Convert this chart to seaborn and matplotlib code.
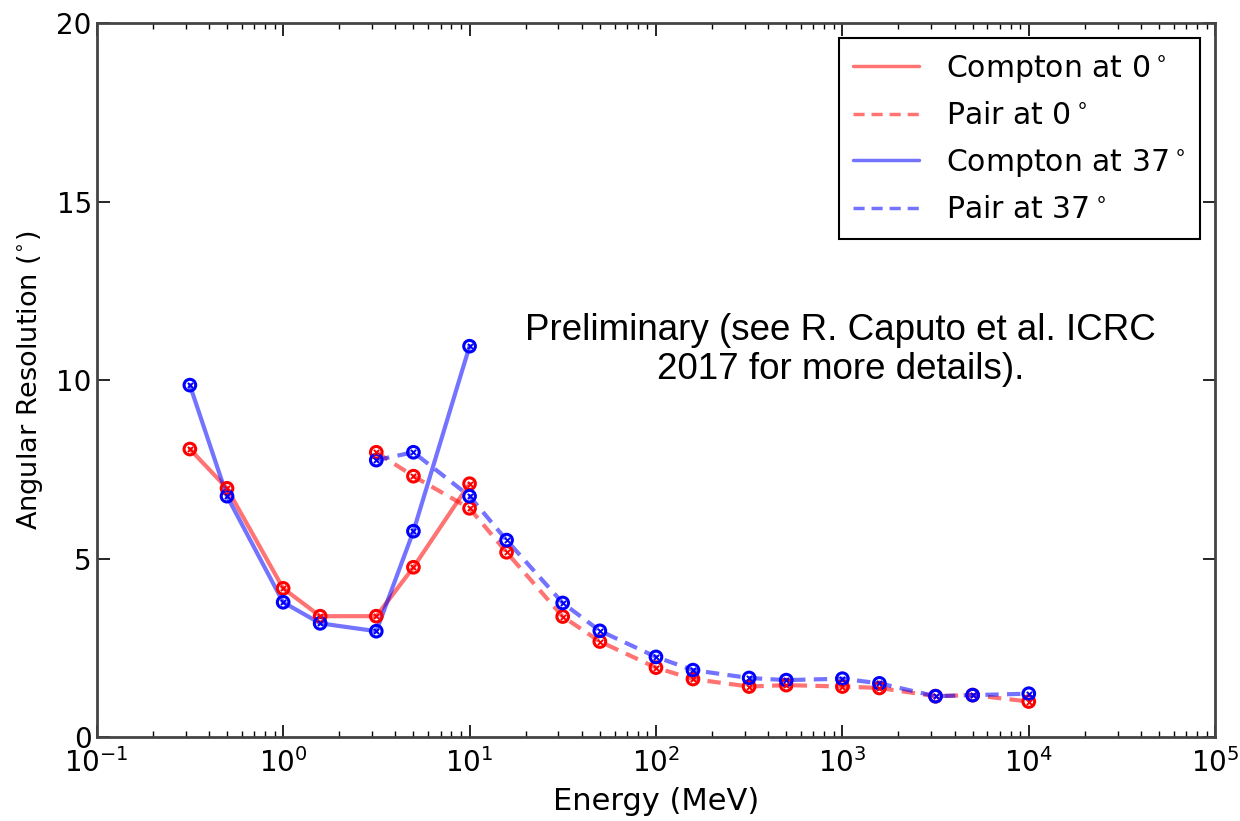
import numpy as np
import pandas as pd
import matplotlib
matplotlib.use("Agg")
import matplotlib.pyplot as plt
from matplotlib.ticker import FixedLocator, NullFormatter
import seaborn as sns

# Energies (MeV)
compton_energy = [0.316, 0.5, 1.0, 1.58, 3.16, 5.0, 10.0]
pair_energy = [3.16, 5.0, 10.0, 15.8, 31.6, 50.0, 100.0, 158.0, 316.0, 500.0,
               1000.0, 1580.0, 3160.0, 5000.0, 10000.0]

# Angular resolution (degrees)
compton_0 = [8.07, 6.97, 4.17, 3.39, 3.39, 4.76, 7.1]
compton_37 = [9.86, 6.75, 3.78, 3.19, 2.97, 5.77, 10.95]
pair_0 = [7.98, 7.31, 6.41, 5.18, 3.38, 2.68, 1.95, 1.63, 1.42, 1.46, 1.42, 1.38,
          1.15, 1.18, 1.0]
pair_37 = [7.76, 7.98, 6.75, 5.52, 3.76, 2.98, 2.25, 1.88, 1.66, 1.6, 1.64, 1.51,
           1.15, 1.18, 1.22]

labels = [r"Compton at 0$^\circ$", r"Pair at 0$^\circ$",
          r"Compton at 37$^\circ$", r"Pair at 37$^\circ$"]

sns.set_style("white")
plt.rcParams["font.family"] = ["DejaVu Sans"]
plt.rcParams["text.color"] = "black"
plt.rcParams["axes.labelcolor"] = "black"

fig = plt.figure(figsize=(12.4, 8.21), dpi=100)
ax = fig.add_axes([0.078, 0.102, 0.902, 0.870])

series = [
    (compton_energy, compton_0, "red", "-", labels[0]),
    (pair_energy, pair_0, "red", "--", labels[1]),
    (compton_energy, compton_37, "blue", "-", labels[2]),
    (pair_energy, pair_37, "blue", "--", labels[3]),
]

handles = []
for xs, ys, col, ls, lab in series:
    df = pd.DataFrame({"energy": xs, "res": ys})
    sns.lineplot(data=df, x="energy", y="res", ax=ax, color=col, linestyle=ls,
                 linewidth=3, alpha=0.55, label=lab, legend=False, sort=False)
    line = ax.lines[-1]
    if ls == "--":
        line.set_dashes((3.2, 2.0))
    handles.append(line)
    sns.scatterplot(data=df, x="energy", y="res", ax=ax, marker="o", s=70,
                    facecolor="none", edgecolor=col, linewidth=2.2, zorder=3,
                    legend=False)
    sns.scatterplot(data=df, x="energy", y="res", ax=ax, marker="x", s=14,
                    color=col, linewidth=1.4, zorder=4, legend=False)

ax.set_xscale("log")
ax.set_xlim(0.1, 1e5)
ax.set_ylim(0, 20)
ax.set_yticks([0, 5, 10, 15, 20])
decades = 10.0 ** np.arange(-1, 5)
ax.xaxis.set_minor_locator(FixedLocator(np.outer(decades, np.arange(2, 10)).ravel()))
ax.xaxis.set_minor_formatter(NullFormatter())
ax.set_xlabel("Energy (MeV)", fontsize=22, labelpad=6)
ax.set_ylabel(r"Angular Resolution ($^{\circ}$)", fontsize=19.5, labelpad=8)

ax.tick_params(which="both", direction="in", top=True, right=True,
               bottom=True, left=True, labelsize=20, colors="black",
               labelcolor="black")
ax.tick_params(which="major", length=9, width=1.2)
ax.tick_params(which="minor", length=4.5, width=1.0)
ax.tick_params(axis="x", which="major", pad=8)
for sp in ax.spines.values():
    sp.set_visible(True)
    sp.set_linewidth(2)
    sp.set_color("#444444")

leg = ax.legend(handles=handles, labels=labels, loc="upper right",
                fontsize=21.5, frameon=True, fancybox=False, handlelength=2.2,
                borderaxespad=0.5, labelspacing=0.55, handletextpad=0.9,
                borderpad=0.5)
leg.get_frame().set_edgecolor("black")
leg.get_frame().set_linewidth(1.5)
leg.get_frame().set_alpha(1)
for h in leg.get_lines():
    h.set_linewidth(2.5)

ax.text(0.665, 0.542, "Preliminary (see R. Caputo et al. ICRC\n2017 for more details).",
        transform=ax.transAxes, ha="center", va="center", fontsize=26.5,
        family="Liberation Sans", linespacing=1.15, color="black")

fig.savefig("out.png", dpi=100)
